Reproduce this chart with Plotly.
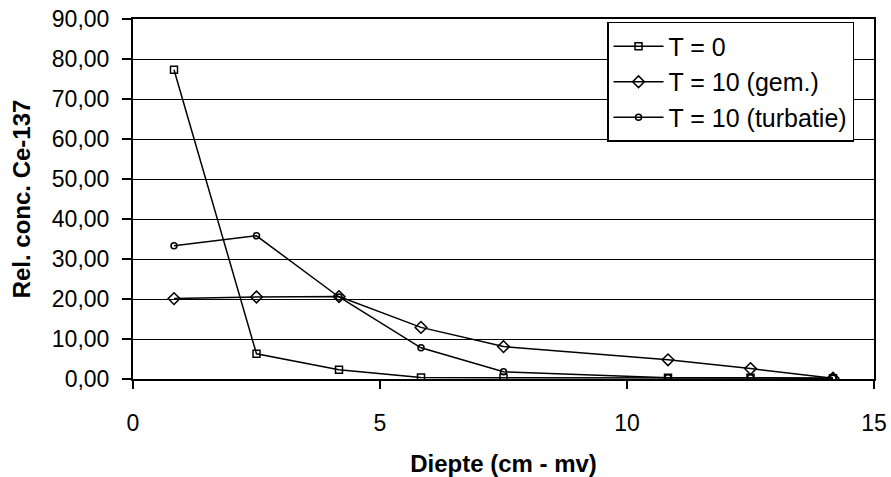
import plotly.graph_objects as go

depth_t0 = [0.83, 2.5, 4.17, 5.83, 7.5, 10.83, 12.5, 14.17]
conc_t0 = [77.3, 6.3, 2.3, 0.4, 0.3, 0.3, 0.3, 0.2]

depth_gem = [0.83, 2.5, 4.17, 5.83, 7.5, 10.83, 12.5, 14.17]
conc_gem = [20.1, 20.5, 20.6, 12.9, 8.1, 4.8, 2.6, 0.2]

depth_turb = [0.83, 2.5, 4.17, 5.83, 7.5, 10.83, 12.5, 14.17]
conc_turb = [33.3, 35.8, 20.5, 7.8, 1.8, 0.3, 0.3, 0.2]

names = ["T = 0", "T = 10 (gem.)", "T = 10 (turbatie)"]
y_ticks = [0, 10, 20, 30, 40, 50, 60, 70, 80, 90]
x_ticks = [0, 5, 10, 15]

font = "Liberation Sans, Arial, sans-serif"

fig = go.Figure()
fig.add_trace(go.Scatter(x=depth_t0, y=conc_t0, name=names[0], legendgroup="a", mode="lines+markers",
                         line=dict(color="black", width=1.5),
                         marker=dict(symbol="square-open", size=7, color="black", line=dict(width=1.5))))
fig.add_trace(go.Scatter(x=depth_gem, y=conc_gem, name=names[1], legendgroup="b", mode="lines+markers",
                         line=dict(color="black", width=1.5),
                         marker=dict(symbol="diamond-open", size=9, color="black", line=dict(width=1.5))))
fig.add_trace(go.Scatter(x=depth_turb, y=conc_turb, name=names[2], legendgroup="c", mode="lines+markers",
                         line=dict(color="black", width=1.5),
                         marker=dict(symbol="circle-open", size=6, color="black", line=dict(width=1.5))))

fig.update_layout(
    width=891, height=477,
    margin=dict(l=133, r=17, t=19, b=98),
    paper_bgcolor="white", plot_bgcolor="white",
    separators=",.",
    font=dict(family=font, size=23, color="black"),
    showlegend=True,
    legend=dict(x=0.6397, y=0.9917, xanchor="left", yanchor="top",
                bgcolor="white", bordercolor="black", borderwidth=1.5,
                font=dict(size=25), tracegroupgap=0, itemwidth=50),
)
fig.update_xaxes(range=[0, 15], tickvals=x_ticks, showgrid=False, zeroline=False,
                 showline=True, linecolor="black", linewidth=2, mirror=True,
                 ticks="outside", ticklen=8, tickwidth=2, tickcolor="black",
                 ticklabelstandoff=14, automargin=False,
                 title=dict(text="<b>Diepte (cm - mv)</b>", font=dict(size=24), standoff=22))
fig.update_yaxes(range=[0, 90], tickvals=y_ticks, tickformat=".2f", showgrid=True,
                 gridcolor="black", gridwidth=1, zeroline=False,
                 showline=True, linecolor="black", linewidth=2, mirror=True,
                 ticks="outside", ticklen=9, tickwidth=2, tickcolor="black",
                 ticklabelstandoff=8, automargin=False,
                 title=dict(text="<b>Rel. conc. Ce-137</b>", font=dict(size=24), standoff=14))

fig.write_html("out.html", config={"displayModeBar": False},
               post_script="document.body.style.margin='0px';")
